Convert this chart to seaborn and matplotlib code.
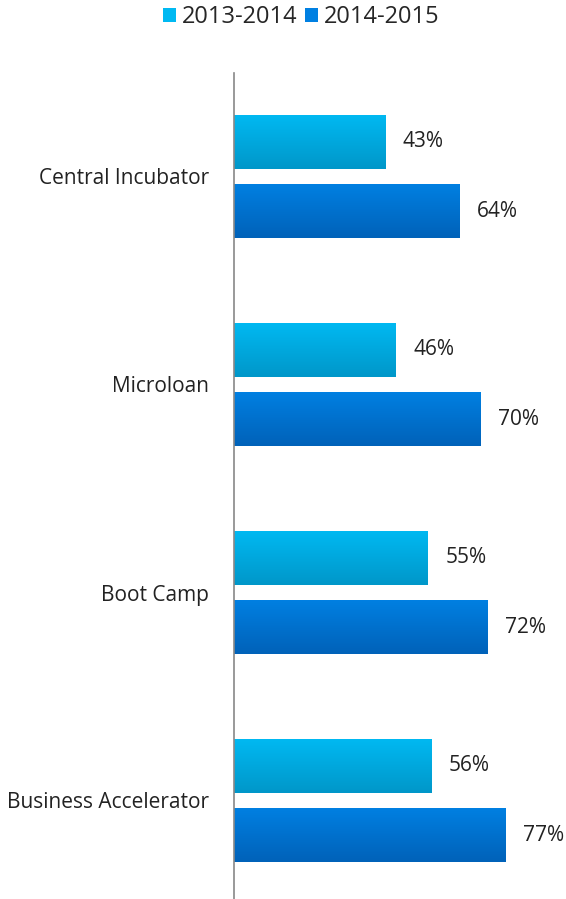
import numpy as np
import pandas as pd
import matplotlib
matplotlib.use("Agg")
import matplotlib.pyplot as plt
import seaborn as sns
from matplotlib.colors import LinearSegmentedColormap
from matplotlib.patches import Patch

# data
programs = ["Central Incubator", "Microloan", "Boot Camp", "Business Accelerator"]
years = ["2013-2014", "2014-2015"]
rate_2013_2014 = [43, 46, 55, 56]
rate_2014_2015 = [64, 70, 72, 77]

df = pd.DataFrame({
    "program": programs * 2,
    "year": [years[0]] * 4 + [years[1]] * 4,
    "rate": rate_2013_2014 + rate_2014_2015,
})

sns.set_theme(style="white")
plt.rcParams["font.family"] = ["Open Sans", "DejaVu Sans"]

top_col = {"2013-2014": "#00B9F2", "2014-2015": "#0080E2"}
bot_col = {"2013-2014": "#0097C9", "2014-2015": "#0062B9"}

fig = plt.figure(figsize=(5.66, 8.99), dpi=100)
ax = fig.add_axes([234 / 566, (899 - 904.5) / 899, 1 - 234 / 566, 832 / 899])

sns.barplot(data=df, y="program", x="rate", hue="year", order=programs,
            hue_order=years, palette=top_col, width=0.664, ax=ax,
            legend=False, errorbar=None)

bar_h = 0.264
for container, yr in zip(ax.containers, years):
    cmap = LinearSegmentedColormap.from_list(yr, [top_col[yr], bot_col[yr]])
    for patch, val in zip(container.patches, df[df.year == yr].rate):
        yc = patch.get_y() + patch.get_height() / 2
        patch.set_y(yc - bar_h / 2)
        patch.set_height(bar_h)
        patch.set_facecolor("none")
        patch.set_edgecolor("none")
        x0, w = patch.get_x(), patch.get_width()
        grad = np.linspace(0, 1, 64).reshape(-1, 1)
        im = ax.imshow(grad, cmap=cmap, aspect="auto", interpolation="bicubic",
                       extent=[x0, x0 + w, yc + bar_h / 2, yc - bar_h / 2],
                       zorder=2)
        im.set_clip_path(patch)
        ax.text(x0 + w + 5, yc, f"{val}%", va="center", ha="left",
                fontsize=15, color="#222222")

ax.set_xlim(0, 94.3)
ax.set_ylim(3.5, -0.5)
ax.set_xlabel("")
ax.set_ylabel("")
ax.set_xticks([])
ax.tick_params(axis="y", length=0, pad=18, labelsize=15, labelcolor="#222222")
for s in ["top", "right", "bottom"]:
    ax.spines[s].set_visible(False)
ax.spines["left"].set_color("#888888")
ax.spines["left"].set_linewidth(1.2)

handles = [Patch(facecolor=top_col[y], edgecolor="none") for y in years]
fig.legend(handles, years, loc="center", bbox_to_anchor=(0.532, 0.981),
           ncol=2, frameon=False, fontsize=17, handlelength=0.55,
           handleheight=0.55, handletextpad=0.25, columnspacing=0.3)

fig.savefig("out.png", dpi=100)
